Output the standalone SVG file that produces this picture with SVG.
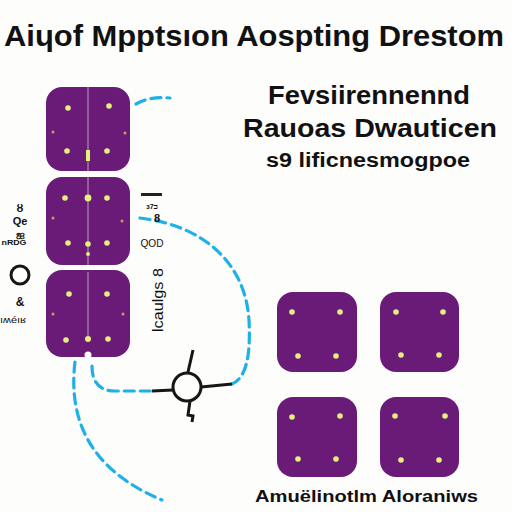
<svg xmlns="http://www.w3.org/2000/svg" width="512" height="512" viewBox="0 0 512 512">
<style>
.box{fill:#6a1b78}
.dot{fill:#e4f27a}
.sdot{fill:#b7a45a}
.vline{stroke:#b9a5c0;stroke-width:1}
.t{font-family:"Liberation Sans",Arial,sans-serif;fill:#111}
.conn{fill:none;stroke:#1fb0e8;stroke-width:3.2;stroke-dasharray:10,6;stroke-linecap:round}
.blk{fill:none;stroke:#161616;stroke-width:3}
</style>
<rect width="512" height="512" fill="#fdfdfc"/>
<text class="t" x="4" y="46" font-size="30" font-weight="bold" textLength="500" lengthAdjust="spacingAndGlyphs">Aiɥof Mpptsıon Aospting Drestom</text>
<g id="caption">
<text class="t" x="268" y="104" font-size="26" font-weight="bold" textLength="202" lengthAdjust="spacingAndGlyphs">Fevsiirennennd</text>
<text class="t" x="243" y="137" font-size="26" font-weight="bold" textLength="254" lengthAdjust="spacingAndGlyphs">Rauoas Dwauticen</text>
<text class="t" x="266" y="167" font-size="20" font-weight="bold" textLength="204" lengthAdjust="spacingAndGlyphs">s9 lificnesmogpoe</text>
</g>
<g id="connectors">
<path class="conn" d="M136,104 Q150,96 170,98" stroke-dasharray="5,7"/>
<path class="conn" d="M140,218 C200,225 245,260 249,320 C251,360 245,378 232,384"/>
<path class="conn" d="M75,362 C68,420 90,470 162,500"/>
<path class="conn" d="M92,366 Q92,391 115,391 L152,391"/>
</g>
<g id="box1">
<rect class="box" x="46" y="87" width="84" height="84" rx="16"/>
<line class="vline" x1="88" y1="87" x2="88" y2="171"/>
<circle class="dot" cx="68" cy="108" r="2.8"/><circle class="dot" cx="109" cy="106" r="2.8"/>
<circle class="dot" cx="67" cy="151" r="2.8"/><circle class="dot" cx="107" cy="151" r="2.8"/>
<circle class="sdot" cx="53" cy="132" r="1.5"/><circle class="sdot" cx="125" cy="133" r="1.5"/>
<rect class="dot" x="86" y="150" width="4" height="11"/>
</g>
<g id="box2">
<rect class="box" x="46" y="177" width="84" height="88" rx="16"/>
<line class="vline" x1="88" y1="177" x2="88" y2="265"/>
<circle class="dot" cx="65" cy="198" r="2.8"/><circle class="dot" cx="88" cy="198" r="3.4"/><circle class="dot" cx="107" cy="198" r="2.8"/>
<circle class="sdot" cx="53" cy="218" r="1.5"/><circle class="sdot" cx="122" cy="221" r="1.5"/>
<circle class="dot" cx="68" cy="243" r="2.8"/><circle class="dot" cx="88" cy="244" r="2.8"/><circle class="dot" cx="107" cy="243" r="2.8"/>
<circle class="dot" cx="88" cy="254" r="2"/>
</g>
<g id="box3">
<rect class="box" x="46" y="270" width="84" height="87" rx="16"/>
<line class="vline" x1="88" y1="272" x2="88" y2="340"/>
<circle class="dot" cx="69" cy="294" r="2.8"/><circle class="dot" cx="107" cy="294" r="2.8"/>
<circle class="sdot" cx="53" cy="314" r="1.5"/><circle class="sdot" cx="123" cy="314" r="1.5"/>
<circle class="dot" cx="66" cy="340" r="2.8"/><circle class="dot" cx="88" cy="339" r="3"/><circle class="dot" cx="108" cy="339" r="2.8"/>
<circle cx="88" cy="355" r="3.5" fill="#fdfdfc"/>
</g>
<g id="left-labels">
<text class="t" x="20" y="212" font-size="11" font-weight="bold" text-anchor="middle">ȣ</text>
<text class="t" x="20" y="225" font-size="11" font-weight="bold" text-anchor="middle">Qe</text>
<text class="t" x="20" y="237" font-size="11" font-weight="bold" text-anchor="middle">ஐ</text>
<text class="t" x="14" y="245" font-size="7" font-weight="bold" text-anchor="middle" textLength="25" lengthAdjust="spacingAndGlyphs">nRDG</text>
<circle cx="20" cy="275" r="9" class="blk"/>
<text class="t" x="20" y="306" font-size="12" font-weight="bold" text-anchor="middle">&amp;</text>
<text class="t" x="13" y="323" font-size="9" text-anchor="middle" textLength="26" lengthAdjust="spacingAndGlyphs">ıʍéıʁ</text>
</g>
<g id="mid-labels">
<rect x="141" y="193" width="21" height="3" fill="#222"/>
<text class="t" x="152" y="209" font-size="7" font-weight="bold" text-anchor="middle">ɜ7ᴝ</text>
<text class="t" x="157" y="222" font-size="11" font-weight="bold" text-anchor="middle">8</text>
<text class="t" x="152" y="247" font-size="11" text-anchor="middle" textLength="23" lengthAdjust="spacingAndGlyphs">QOD</text>
<text class="t" x="0" y="0" font-size="14" transform="translate(163,332) rotate(-90)" textLength="64" lengthAdjust="spacingAndGlyphs">lcaulgs 8</text>
</g>
<g id="junction">
<circle cx="187" cy="387" r="14" class="blk" stroke-width="3.5"/>
<line x1="193" y1="350" x2="188" y2="372" class="blk"/>
<line x1="152" y1="391" x2="173" y2="390" class="blk"/>
<line x1="201" y1="387" x2="232" y2="384" class="blk"/>
<path d="M190,401 L188,415 L193,416 L192,422" class="blk"/>
</g>
<g id="boxTL">
<rect class="box" x="277" y="292" width="80" height="80" rx="16"/>
<circle class="dot" cx="292" cy="312" r="2.8"/><circle class="dot" cx="340" cy="312" r="2.8"/>
<circle class="dot" cx="298" cy="356" r="2.8"/><circle class="dot" cx="336" cy="356" r="2.8"/>
</g>
<g id="boxTR">
<rect class="box" x="380" y="292" width="79" height="80" rx="16"/>
<circle class="dot" cx="396" cy="312" r="2.8"/><circle class="dot" cx="443" cy="312" r="2.8"/>
<circle class="dot" cx="401" cy="355" r="2.8"/><circle class="dot" cx="439" cy="355" r="2.8"/>
</g>
<g id="boxBL">
<rect class="box" x="277" y="397" width="80" height="80" rx="16"/>
<circle class="dot" cx="292" cy="417" r="2.8"/><circle class="dot" cx="340" cy="416" r="2.8"/>
<circle class="dot" cx="298" cy="459" r="2.8"/><circle class="dot" cx="336" cy="459" r="2.8"/>
</g>
<g id="boxBR">
<rect class="box" x="380" y="397" width="79" height="80" rx="16"/>
<circle class="dot" cx="395" cy="416" r="2.8"/><circle class="dot" cx="445" cy="416" r="2.8"/>
<circle class="dot" cx="401" cy="460" r="2.8"/><circle class="dot" cx="439" cy="460" r="2.8"/>
</g>
<text class="t" x="255" y="502" font-size="17" font-weight="bold" textLength="223" lengthAdjust="spacingAndGlyphs">Amuëlinotlm Aloraniws</text>
</svg>
